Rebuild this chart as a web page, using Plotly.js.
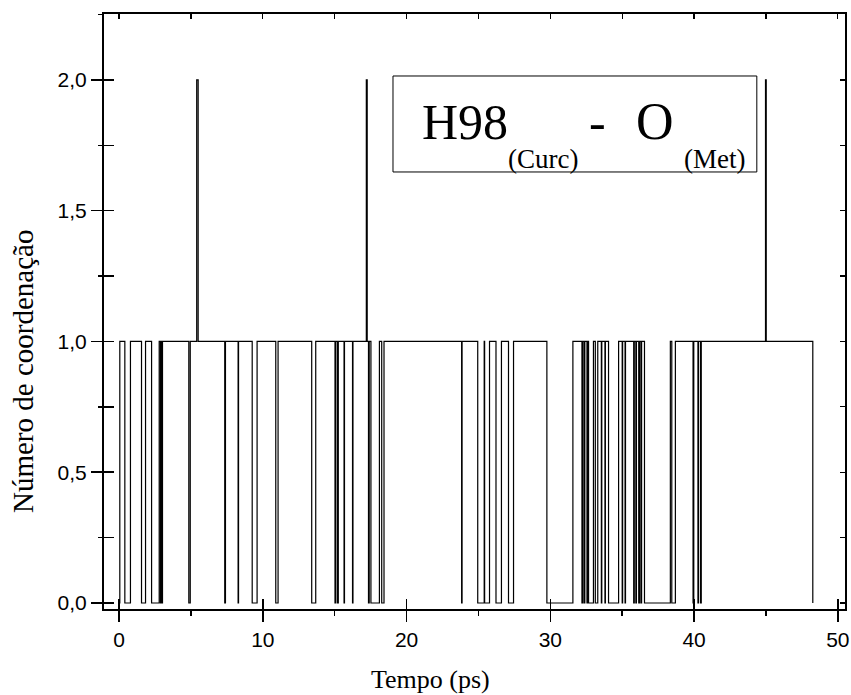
<!DOCTYPE html>
<html>
<head>
<meta charset="utf-8">
<script src="https://cdn.plot.ly/plotly-3.0.1.min.js"></script>
<style>html,body{margin:0;padding:0;background:#fff;}#chart{width:851px;height:695px;}</style>
</head>
<body>
<div id="chart"></div>
<script>
// Step series: time (ps) and coordination number
const time = [
  0, 0.05, 0.40, 0.79, 1.56, 1.84, 2.26, 2.79, 2.88, 2.92, 2.98, 3.02,
  4.85, 4.95, 5.40, 5.50, 7.35, 7.40, 8.28, 8.31, 9.26, 9.60, 10.90, 11.06,
  13.40, 13.68, 15.02, 15.08, 15.20, 15.25, 15.65, 15.68, 16.24, 16.27,
  17.20, 17.26, 17.35, 17.40, 17.52, 18.11, 18.27, 18.43,
  23.83, 23.86, 24.95, 25.40, 25.43, 25.77, 26.22, 26.60, 27.09, 27.44, 29.76,
  31.57, 32.20, 32.25, 32.35, 32.40, 32.55, 32.58, 32.66, 33.00, 33.13, 33.30,
  33.55, 33.58, 33.80, 33.83, 34.05, 34.75, 35.00, 35.03, 35.20, 35.23,
  35.80, 35.84, 35.95, 35.99, 36.15, 36.20, 36.30, 36.35, 36.55,
  38.35, 38.45, 38.70, 39.93, 39.98, 40.27, 40.31, 40.45, 40.50,
  44.97, 45.02, 48.26
];
const value = [
  0, 1, 0, 1, 0, 1, 0, 1, 0, 1, 0, 1,
  0, 1, 2, 1, 0, 1, 0, 1, 0, 1, 0, 1,
  0, 1, 0, 1, 0, 1, 0, 1, 0, 1,
  2, 1, 0, 1, 0, 1, 0, 1,
  0, 1, 0, 1, 0, 1, 0, 1, 0, 1, 0,
  1, 0, 1, 0, 1, 0, 1, 0, 1, 0, 1,
  0, 1, 0, 1, 0, 1, 0, 1, 0, 1,
  0, 1, 0, 1, 0, 1, 0, 1, 0,
  1, 0, 1, 0, 1, 0, 1, 0, 1,
  2, 1, 0
];
const xTickVals = [0, 10, 20, 30, 40, 50];
const yTickVals = [0, 0.5, 1.0, 1.5, 2.0];
const xTitle = 'Tempo (ps)';
const yTitle = 'Número de coordenação';
const labelMain = 'H98';
const labelSub1 = '(Curc)';
const labelDash = '-';
const labelAtom = 'O';
const labelSub2 = '(Met)';

const xRange = [-1.05, 50.5];
const yRange = [-0.023, 2.252];

const traces = [
  {x: time, y: value, type: 'scatter', mode: 'lines', line: {shape: 'hv', color: '#000', width: 1.2}, hoverinfo: 'skip', showlegend: false},
  {x: [], y: [], type: 'scatter', mode: 'lines', xaxis: 'x2', yaxis: 'y2', showlegend: false},
  {x: [], y: [], type: 'scatter', mode: 'lines', xaxis: 'x3', yaxis: 'y3', showlegend: false}
];

const serif = 'Liberation Serif, Times New Roman, serif';
const tickFont = {family: 'Liberation Sans, Arial, sans-serif', size: 21, color: '#000'};

function ann(text, x, y, size, xanchor) {
  return {xref: 'paper', yref: 'paper', x: x, y: y, xanchor: xanchor || 'left', yanchor: 'middle',
          text: text, showarrow: false, font: {family: serif, size: size, color: '#000'}};
}

const layout = {
  width: 851, height: 695,
  margin: {l: 104, r: 6, t: 14, b: 86},
  paper_bgcolor: '#fff', plot_bgcolor: '#fff',
  showlegend: false,
  xaxis: {
    range: xRange, tickmode: 'array', tickvals: xTickVals, ticktext: xTickVals.map(String),
    ticks: 'outside', ticklen: 11, tickwidth: 1.5, tickcolor: '#000',
    minor: {ticks: 'outside', dtick: 5, tick0: 0, ticklen: 5, tickwidth: 1.5, tickcolor: '#000', showgrid: false},
    showline: true, linecolor: '#000', linewidth: 2, showgrid: false, zeroline: false,
    tickfont: tickFont
  },
  yaxis: {
    range: yRange, tickmode: 'array', tickvals: yTickVals, ticktext: yTickVals.map(v => v.toFixed(1).replace('.', ',')),
    ticks: 'outside', ticklen: 11, tickwidth: 1.5, tickcolor: '#000',
    minor: {ticks: 'outside', dtick: 0.25, tick0: 0, ticklen: 4, tickwidth: 1.5, tickcolor: '#000', showgrid: false},
    showline: true, linecolor: '#000', linewidth: 2, showgrid: false, zeroline: false,
    tickfont: tickFont
  },
  xaxis2: {
    overlaying: 'x', anchor: 'y', side: 'bottom', range: xRange,
    tickmode: 'linear', tick0: 0, dtick: 10, ticks: 'inside', ticklen: 10, tickwidth: 1.5, tickcolor: '#000',
    showticklabels: false, showline: false, showgrid: false, zeroline: false
  },
  yaxis2: {
    overlaying: 'y', anchor: 'x', side: 'left', range: yRange,
    tickmode: 'linear', tick0: 0, dtick: 0.25, ticks: 'inside', ticklen: 10, tickwidth: 1.5, tickcolor: '#000',
    showticklabels: false, showline: false, showgrid: false, zeroline: false
  },
  xaxis3: {
    overlaying: 'x', anchor: 'y', side: 'top', range: xRange,
    tickmode: 'linear', tick0: 0, dtick: 5, ticks: 'inside', ticklen: 5, tickwidth: 1.2, tickcolor: '#000',
    showticklabels: false, showline: true, linecolor: '#000', linewidth: 2, showgrid: false, zeroline: false
  },
  yaxis3: {
    overlaying: 'y', anchor: 'x', side: 'right', range: yRange,
    tickmode: 'linear', tick0: 0, dtick: 0.25, ticks: 'inside', ticklen: 5, tickwidth: 1.2, tickcolor: '#000',
    showticklabels: false, showline: true, linecolor: '#000', linewidth: 2, showgrid: false, zeroline: false
  },
  shapes: [{
    type: 'rect', xref: 'paper', yref: 'paper', x0: 0.390, x1: 0.881, y0: 0.7345, y1: 0.8958,
    line: {color: '#000', width: 1}, fillcolor: 'rgba(0,0,0,0)'
  }],
  annotations: [
    ann(labelMain, 0.4265, 0.8185, 50),
    ann(labelSub1, 0.5425, 0.757, 27),
    ann(labelDash, 0.6655, 0.8185, 50, 'center'),
    ann(labelAtom, 0.7155, 0.8185, 52),
    ann(labelSub2, 0.7800, 0.757, 27),
    {xref: 'paper', yref: 'paper', x: (430 - 104) / 741, y: -0.118, xanchor: 'center', yanchor: 'middle',
     text: xTitle, showarrow: false, font: {family: serif, size: 26, color: '#000'}},
    {xref: 'paper', yref: 'paper', x: (23 - 104) / 741, y: (609 - 372) / 595, xanchor: 'center', yanchor: 'middle',
     text: yTitle, textangle: -90, showarrow: false, font: {family: serif, size: 29, color: '#000'}}
  ]
};

Plotly.newPlot('chart', traces, layout, {staticPlot: true, displayModeBar: false});
</script>
</body>
</html>
